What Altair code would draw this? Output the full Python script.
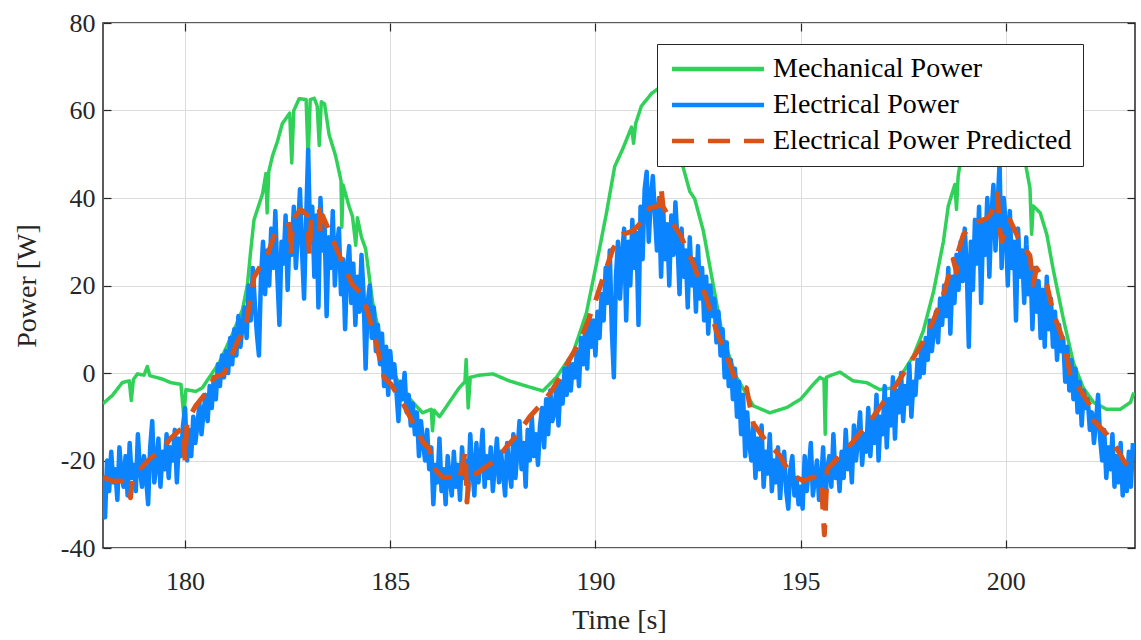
import altair as alt
import pandas as pd

# ---------------- data ----------------
mech_t = [178.0, 178.23, 178.47, 178.64, 178.69, 178.74, 178.84, 179.0, 179.08, 179.14,
          179.45, 179.65, 179.9, 179.97, 180.02, 180.26, 180.42, 180.59, 180.83, 181.15,
          181.4, 181.52, 181.6, 181.68, 181.89, 181.97, 182.0, 182.04, 182.13, 182.25,
          182.37, 182.55, 182.6, 182.65, 182.78, 182.95, 183.0, 183.05, 183.15, 183.22,
          183.27, 183.32, 183.4, 183.51, 183.67, 183.8, 183.82, 183.85, 184.0, 184.08,
          184.16, 184.2, 184.3, 184.4, 184.57, 184.81, 185.14, 185.38, 185.79, 186.0,
          186.03, 186.07, 186.2, 186.44, 186.68, 186.82, 186.85, 186.9, 186.95, 187.17,
          187.5, 187.9, 188.32, 188.72, 189.05, 189.46, 189.78, 190.1, 190.27, 190.47,
          190.67, 190.88, 190.93, 190.98, 191.12, 191.37, 191.6, 191.85, 192.05, 192.3,
          192.42, 192.63, 192.87, 193.11, 193.44, 193.85, 194.25, 194.66, 195.0, 195.31,
          195.47, 195.57, 195.6, 195.63, 195.72, 195.96, 196.28, 196.61, 196.93, 197.26,
          197.42, 197.75, 197.99, 198.24, 198.48, 198.6, 198.76, 198.8, 198.84, 198.89,
          199.1, 199.4, 199.65, 199.9, 200.2, 200.47, 200.59, 200.63, 200.67, 200.84,
          201.0, 201.16, 201.41, 201.65, 201.89, 202.14, 202.46, 202.79, 203.04, 203.12]
mech_p = [-7, -5.1, -2.2, -1.8, -6.3, -1.5, -0.2, -0.5, 1.5, -0.6,
          -1.4, -2.2, -2.6, -10, -3.8, -4.2, -3.4, -1, 2.3, 8.8,
          14.5, 20.2, 28, 35, 41, 45.6, 36.6, 46, 49.6, 52.9,
          57, 59.4, 48, 60, 62.7, 62.5, 48.8, 62.5, 62.8, 61,
          52, 62, 61.5, 54.5, 49.6, 44, 33.3, 43, 38, 35.8,
          29.2, 35.5, 31, 28.4, 16.2, 5.6, -1, -5, -9.1, -8.3,
          -13.2, -8.5, -10, -6.7, -3.4, -2, 3.1, -8, -1, -0.5,
          -0.2, -1.8, -3, -4.1, -1, 4.7, 13.7, 28.4, 36.6, 47.2,
          51.3, 56.2, 52.5, 57, 61, 63.9, 65.5, 62, 50, 41.5,
          39.8, 32.5, 20.2, 8, -1, -7.5, -9.1, -7.9, -6, -2.6,
          -1, -1.5, -14, -1, -0.6, 0.2, -1.8, -2.2, -3.8, -3.4,
          -1, 3.9, 9.6, 18.6, 30, 38.2, 43.1, 37.4, 45, 48,
          56, 62, 63.5, 62, 56, 48.4, 42.3, 31.7, 38.2, 36.6,
          31.7, 23.5, 12.1, 2.3, -3.4, -6.7, -8.3, -8.3, -6.7, -4.5]

# Electrical power: sampled every 0.05 s starting at 178.0 s (one row = one second)
elec_start = 178.0
elec_step = 0.05
elec_p = [
    -24, -33, -20, -27, -18, -25, -22, -29, -17, -23, -26, -19, -28, -16, -24, -21, -27, -14, -22, -26,  # 178
    -19, -24, -30, -17, -11, -25, -21, -15, -26, -18, -22, -14, -24, -17, -20, -13, -25, -15, -19, -12,  # 179
    -8, -20, -13, -19, -10, -16, -12, -7, -14, -9, -5, -11, -3, -8, -1, -6, 2, -3, 4, -1,                # 180
    5, 0, 8, 2, 10, 4, 13, 6, 11, 15, 8, 20, 12, 24, 16, 9, 4, 22, 30, 18,                               # 181
    28, 20, 33, 24, 37, 22, 11, 30, 25, 36, 19, 33, 27, 38, 24, 32, 42, 28, 17, 35,                      # 182
    51, 30, 38, 22, 36, 15, 40, 28, 34, 13, 31, 24, 37, 20, 29, 33, 18, 26, 10, 24,                      # 183
    29, 16, 25, 11, 22, 14, 27, 18, 1, 16, 20, 8, 15, 5, 11, 2, 9, -3, 6, -5,                            # 184
    5, -1, 2, -4, -11, -2, -6, 0, -9, -5, -12, -7, -14, -9, -19, -11, -16, -20, -13, -22,                # 185
    -17, -30, -21, -25, -15, -27, -22, -30, -19, -24, -28, -18, -26, -21, -29, -17, -24, -20, -27, -14,  # 186
    -22, -28, -16, -25, -20, -13, -26, -19, -24, -17, -27, -21, -15, -25, -18, -23, -28, -16, -22, -26,  # 187
    -14, -24, -18, -11, -22, -16, -26, -13, -20, -10, -19, -14, -21, -12, -8, -17, -6, -14, -4, -11,     # 188
    -9, -3, -12, -2, -7, 1, -5, 3, -4, 2, -1, 5, -3, 8, 2, 10, 1, 13, 6, 12,                             # 189
    4, 14, 8, 18, 12, 24, 16, 28, 10, -1, 22, 30, 17, 27, 33, 12, 30, 20, 35, 24,                        # 190
    32, 11, 38, 26, 42, 46, 30, 40, 45, 36, 28, 40, 22, 38, 26, 34, 20, 36, 27, 39,                      # 191
    30, 18, 33, 22, 28, 15, 31, 20, 26, 14, 29, 17, 24, 12, 22, 9, 20, 13, 17, 7,                        # 192
    14, 4, 10, -1, 7, -3, 3, -6, 1, -10, -2, -14, -5, -19, -9, -16, -20, -12, -24, -15,                  # 193
    -22, -12, -26, -18, -23, -14, -27, -20, -25, -17, -29, -21, -18, -27, -31, -22, -19, -28, -24, -30,  # 194
    -26, -31, -19, -27, -22, -16, -28, -24, -20, -29, -25, -17, -30, -22, -19, -26, -14, -24, -20, -27,  # 195
    -18, -24, -13, -22, -17, -25, -12, -20, -15, -9, -21, -14, -18, -8, -19, -11, -16, -5, -20, -10,     # 196
    -14, -3, -17, -6, -12, -1, -15, -4, -9, 0, -11, -3, -7, 2, -10, -2, -5, 3, -1, 6,                    # 197
    0, 8, 3, 12, 5, 10, 14, 7, 17, 11, 20, 13, 24, 9, 22, 16, 27, 19, 30, 21,                            # 198
    33, 24, 6, 30, 19, 35, 25, 38, 16, 34, 27, 40, 22, 36, 43, 28, 38, 48, 24, 40,                       # 199
    34, 20, 37, 24, 30, 12, 33, 22, 28, 16, 31, 18, 26, 10, 24, 14, 21, 8, 19, 6,                        # 200
    22, 10, 17, 6, 14, 3, 11, 5, 8, -2, 6, -4, 3, -6, 1, -9, -2, -12, -4, -8,                            # 201
    -6, -13, -9, -16, -11, -5, -15, -20, -13, -24, -17, -22, -14, -26, -19, -25, -16, -28, -21, -27,     # 202
    -18, -26, -16,                                                                                         # 203
]
elec_t = [round(elec_start + elec_step * i, 3) for i in range(len(elec_p))]

pred_t = [178.0, 178.23, 178.43, 178.6, 178.67, 178.72, 178.88, 179.12, 179.45, 179.65,
          179.95, 180.0, 180.05, 180.26, 180.5, 180.71, 180.95, 181.28, 181.48, 181.68,
          181.85, 182.0, 182.17, 182.33, 182.55, 182.58, 182.62, 182.82, 182.98, 183.03,
          183.08, 183.27, 183.3, 183.35, 183.51, 183.84, 184.08, 184.33, 184.53, 184.65,
          184.85, 185.02, 185.34, 185.79, 185.95, 186.11, 186.28, 186.52, 186.68, 186.83,
          186.87, 186.92, 187.1, 187.34, 187.59, 187.83, 188.07, 188.4, 188.64, 188.93,
          189.13, 189.37, 189.62, 189.86, 190.02, 190.19, 190.43, 190.67, 190.92, 191.16,
          191.33, 191.55, 191.6, 191.65, 191.89, 192.06, 192.38, 192.71, 192.95, 193.2,
          193.44, 193.68, 193.85, 194.17, 194.5, 194.74, 195.07, 195.3, 195.5, 195.58,
          195.65, 195.8, 195.96, 196.28, 196.77, 197.02, 197.34, 197.67, 197.99, 198.24,
          198.48, 198.72, 198.8, 198.85, 198.97, 199.21, 199.53, 199.65, 199.8, 199.85,
          199.9, 200.1, 200.35, 200.59, 200.67, 200.75, 201.0, 201.16, 201.41, 201.57,
          201.73, 202.06, 202.14, 202.46, 202.71, 202.91, 203.11]
pred_p = [-23.8, -24.7, -24.7, -25, -28.5, -24, -22.2, -19.8, -17.3, -14.9,
          -12.4, -20, -11, -7.5, -4.7, -1, -0.2, 7.2, 10.4, 21.9,
          24.7, 26.8, 31.3, 32.9, 34, 27, 35, 37.4, 36, 27,
          36, 37.4, 31.7, 36, 32.5, 25.1, 20.2, 17.8, 11.3, 7.2,
          -1, -2.6, -7.5, -15.7, -17.3, -22.2, -23.8, -23.8, -24.7, -18,
          -29.5, -23, -23, -21.4, -19.8, -16.9, -14.4, -10, -7.5, -4.2,
          -1, 3.1, 7.2, 12.9, 17, 21.9, 28.4, 31.7, 32.5, 34.9,
          37.8, 38.2, 42.5, 38, 34.1, 31.7, 25.1, 17, 9.6, 3.9,
          -2.2, -3.4, -11.6, -15.7, -18.9, -23, -24.7, -23.8, -24, -37,
          -22, -20.5, -18.9, -15.7, -10, -6.7, -2.6, 2.3, 7.2, 12.1,
          17.8, 26, 23, 28, 31.7, 34.1, 35.3, 36.6, 41, 33.3,
          30, 35, 30, 26.8, 20.2, 24, 20.2, 13.7, 7.2, -0.2,
          -2.6, -7.5, -10.8, -14, -17.3, -20.6, -21.4]

series_names = ["Mechanical Power", "Electrical Power", "Electrical Power Predicted"]
series_colors = ["#30D158", "#0A84FF", "#D95319"]
series_dashes = [[1, 0], [1, 0], [22, 14]]
x_ticks = [180, 185, 190, 195, 200]
y_ticks = [-40, -20, 0, 20, 40, 60, 80]
x_domain = [178.0, 203.15]
y_domain = [-40, 80]

FONT = "Liberation Serif"

mech_df = pd.DataFrame({"t": mech_t, "p": mech_p, "series": series_names[0]})
elec_df = pd.DataFrame({"t": elec_t, "p": elec_p, "series": series_names[1]})
pred_df = pd.DataFrame({"t": pred_t, "p": pred_p, "series": series_names[2]})

legend = alt.Legend(
    title=None, orient="none", legendX=554, legendY=21,
    symbolType="M-1,0H8.2", symbolSize=400, symbolStrokeWidth=4.5,
    labelOffset=77, labelFont=FONT, labelFontSize=28, labelColor="black",
    labelLimit=700, rowPadding=8, padding=11, fillColor="white",
    strokeColor="#262626", cornerRadius=0,
)

LABEL_EXPR = "toString(datum.value)"

x_enc = alt.X("t:Q", scale=alt.Scale(domain=x_domain, nice=False, zero=False),
              axis=alt.Axis(title="Time [s]", values=x_ticks, labelExpr=LABEL_EXPR,
                            labelFont=FONT, labelFontSize=26, titleFont=FONT,
                            tickSize={"expr": "-8"}, labelPadding=28,
                            titlePadding=12, grid=True, domain=False))
y_enc = alt.Y("p:Q", scale=alt.Scale(domain=y_domain, nice=False, zero=False),
              axis=alt.Axis(title="Power [W]", values=y_ticks, labelExpr=LABEL_EXPR,
                            labelFont=FONT, labelFontSize=26, titleFont=FONT,
                            tickSize={"expr": "-8"}, labelPadding=16,
                            titlePadding=19, grid=True, domain=False))
color_enc = alt.Color("series:N", scale=alt.Scale(domain=series_names, range=series_colors),
                      legend=legend)
dash_enc = alt.StrokeDash("series:N", scale=alt.Scale(domain=series_names, range=series_dashes),
                          legend=legend)


def line_layer(df, width):
    return alt.Chart(df).mark_line(strokeWidth=width, clip=True, strokeJoin="round").encode(
        x=x_enc, y=y_enc, color=color_enc, strokeDash=dash_enc, order="t:Q"
    )


main = alt.layer(
    line_layer(mech_df, 3.5),
    line_layer(elec_df, 4.5),
    line_layer(pred_df, 5),
)

# invisible layer carrying the ticks of the top and right sides of the box
box_ticks = alt.Chart(mech_df).mark_line(opacity=0, clip=True).encode(
    x=alt.X("t:Q", scale=alt.Scale(domain=x_domain, nice=False, zero=False),
            axis=alt.Axis(orient="top", values=x_ticks, labels=False, title=None,
                          tickSize={"expr": "-8"}, grid=False, domain=False)),
    y=alt.Y("p:Q", scale=alt.Scale(domain=y_domain, nice=False, zero=False),
            axis=alt.Axis(orient="right", values=y_ticks, labels=False, title=None,
                          tickSize={"expr": "-8"}, grid=False, domain=False)),
)

chart = alt.layer(main, box_ticks).resolve_axis(x="independent", y="independent").properties(
    width=1032, height=525,
    autosize=alt.AutoSizeParams(type="none"),
    padding={"left": 103, "top": 23, "right": 6, "bottom": 92},
    background="white",
).configure_view(
    stroke="#262626", strokeWidth=1.5
).configure_axis(
    labelFont=FONT, labelFontSize=26, labelColor="#262626",
    titleFont=FONT, titleFontSize=28, titleFontWeight="normal", titleColor="#262626",
    gridColor="#dcdcdc", gridWidth=1, tickColor="#262626", tickWidth=1.2,
)

chart.save("out.html", embed_options={"renderer": "svg", "actions": False})
